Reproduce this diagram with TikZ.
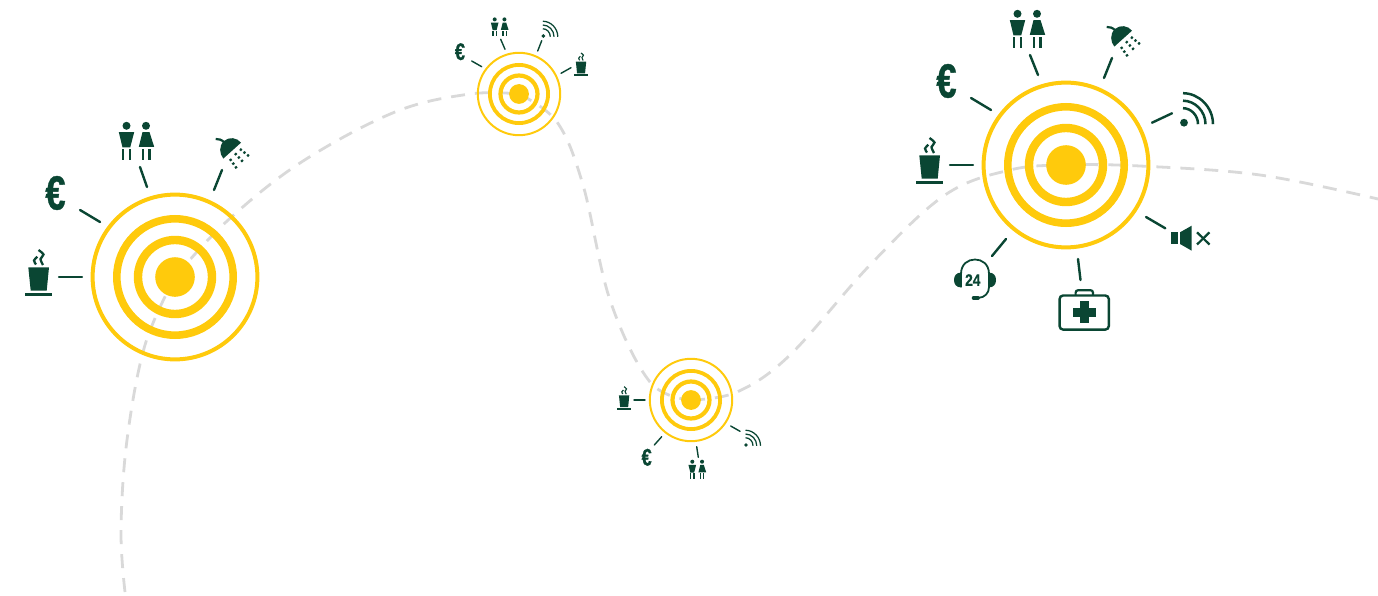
\documentclass[tikz,border=0pt]{standalone}
\usepackage{fontspec}
\setmainfont{Liberation Sans}[BoldFeatures={FakeBold=0.8}]
\definecolor{ygold}{HTML}{FFCA0C}
\definecolor{dgreen}{HTML}{0A4633}
\definecolor{dashgray}{HTML}{D9D9D9}
\tikzset{
  route/.style={draw=dashgray,line width=2.8pt,dash pattern=on 14pt off 10pt},
  spokeline/.style={draw=dgreen,line cap=round},
  glyph/.style={fill=dgreen,draw=none},
  stroke/.style={draw=dgreen,fill=none},
  eurotext/.style={text=dgreen,inner sep=0pt,font=\bfseries\fontsize{48}{48}\selectfont,xscale=.76,transform shape},
  daytext/.style={text=dgreen,inner sep=0pt,font=\bfseries\fontsize{16.5}{16.5}\selectfont,xscale=.84,transform shape},
}
% #1 x, #2 y, #3 scale
\newcommand\targetmark[3]{\begin{scope}[shift={(#1,#2)},scale=#3]
  \draw[ygold,line width=#3*4pt] (0,0) circle[radius=82.4];
  \draw[ygold,line width=#3*7.6pt] (0,0) circle[radius=58.2];
  \draw[ygold,line width=#3*8.4pt] (0,0) circle[radius=37];
  \fill[ygold] (0,0) circle[radius=19.8];
\end{scope}}
\newcommand\spoke[5]{\draw[spokeline,line width=#5pt] (#1,#2) -- (#3,#4);}
\newcommand\cupicon[3]{\begin{scope}[shift={(#1,#2)},scale=#3]
  \fill[glyph] (-9.7,-4.7) -- (11,-4.7) -- (8.7,18.7) -- (-7.3,18.7) -- cycle;
  \fill[glyph] (-13,21) rectangle (13.7,23.6);
  \draw[stroke,line width=#3*2.3pt] plot[smooth] coordinates {(0.5,-22) (5.5,-17.5) (2.5,-13) (5,-7)};
  \draw[stroke,line width=#3*2.3pt] plot[smooth] coordinates {(-2,-7.5) (-4,-11.5) (-0.7,-15.3)};
\end{scope}}
\newcommand\wcicon[3]{\begin{scope}[shift={(#1,#2)},scale=#3]
  \fill[glyph] (-10,-15.2) circle[radius=4];
  \fill[glyph] (-17.7,-8.9) -- (-2.3,-8.9) -- (-6.3,6.5) -- (-14,6.5) -- cycle;
  \fill[glyph] (-14.7,8.3) rectangle (-12.1,19);
  \fill[glyph] (-7.9,8.3) rectangle (-5.4,19);
  \fill[glyph] (9.5,-15.2) circle[radius=4];
  \fill[glyph] (6,-8.9) -- (13,-8.9) -- (17.7,5.9) -- (2.3,5.9) -- cycle;
  \fill[glyph] (5,8.3) rectangle (7.6,19);
  \fill[glyph] (11.7,8.3) rectangle (14.3,19);
\end{scope}}
\newcommand\showericon[3]{\begin{scope}[shift={(#1,#2)},scale=#3]
  \fill[glyph] (9,-9.3) .. controls (5,-14.5) and (-3,-15.5) .. (-8,-11) .. controls (-13.5,-6) and (-12.5,2) .. (-8.7,6.6) -- cycle;
  \draw[stroke,line width=#3*2.2pt] (-16.3,-13) .. controls (-13,-13) and (-11,-12.5) .. (-8,-10);
  \draw[stroke,line width=#3*2.4pt,dash pattern=on 2.2pt off 2.4pt] (-2,7) -- (5,16.8);
  \draw[stroke,line width=#3*2.4pt,dash pattern=on 2.2pt off 2.4pt] (3,1.3) -- (12,11);
  \draw[stroke,line width=#3*2.4pt,dash pattern=on 2.2pt off 2.4pt] (8,-3) -- (18,5);
\end{scope}}
\newcommand\wifiicon[3]{\begin{scope}[shift={(#1,#2)},scale=#3]
  \fill[glyph] (0,0) circle[radius=3.9];
  \draw[stroke,line width=#3*2.5pt] (-1,-14.5) .. controls (7,-14.5) and (14,-7.5) .. (14,1.5);
  \draw[stroke,line width=#3*2.5pt] (-1,-22) .. controls (11,-22) and (21.5,-11.5) .. (21.5,1.5);
  \draw[stroke,line width=#3*2.5pt] (-1,-29.5) .. controls (15,-29.5) and (29,-15.5) .. (29,1.5);
\end{scope}}
\begin{document}
\begin{tikzpicture}[x=1pt,y=-1pt]
\useasboundingbox (0,0) rectangle (1378,596);
% routes
\draw[route] plot[smooth,tension=.6] coordinates {(125,592) (121,530) (127,440) (145,345) (175,277)};
\draw[route] plot[smooth,tension=.6] coordinates {(175,277) (226,222) (300,163) (395,112) (470,94) (519,94)};
\draw[route] plot[smooth,tension=.6] coordinates {(519,94) (557,122) (583,185) (610,300) (650,382) (691,400)};
\draw[route] plot[smooth,tension=.6] coordinates {(691,400) (737,392) (790,355) (870,265) (945,195) (1010,170) (1066,165) (1140,166) (1260,175) (1378,199)};
% targets
\targetmark{175}{277}{1}
\targetmark{519}{94}{.5}
\targetmark{691}{400}{.5}
\targetmark{1066}{165}{1}
% target one
\spoke{59}{277}{82}{277}{2.4}
\spoke{80}{210}{100}{222}{2.4}
\spoke{140}{167}{147}{187}{2.4}
\spoke{222}{170}{214}{190}{2.4}
\cupicon{38}{272}{1}
\node[eurotext] (euroA) at (55.5,193) {€};
\wcicon{136.5}{141}{1}
\showericon{232}{152}{1}
% target two
\spoke{471.7}{61}{481.7}{66.7}{1.4}
\spoke{500.7}{39.3}{505}{49.3}{1.4}
\spoke{541.7}{40.7}{537.7}{51}{1.4}
\spoke{571}{67.7}{561}{73.3}{1.4}
\node[eurotext,scale=.5] (euroB) at (460,51.7) {€};
\wcicon{499.7}{27}{.5}
\wifiicon{543.3}{36}{.5}
\cupicon{580.7}{64}{.5}
% target three
\spoke{634}{400}{645}{400}{1.4}
\spoke{661.7}{436.7}{654.3}{445}{1.4}
\spoke{696.7}{446.7}{698.3}{457.3}{1.4}
\spoke{730.7}{426}{740}{431.3}{1.4}
\cupicon{623.8}{397.7}{.5}
\node[eurotext,scale=.5] (euroC) at (646.7,457.3) {€};
\wcicon{697.3}{469.3}{.5}
\wifiicon{746}{445}{.5}
% target four
\spoke{950}{165}{973}{165}{2.4}
\spoke{971}{98}{991}{110}{2.4}
\spoke{1030}{55}{1038}{75}{2.4}
\spoke{1112}{58}{1104}{78}{2.4}
\spoke{1152}{122.7}{1172}{113.3}{2.4}
\spoke{1146}{217}{1165.3}{228.3}{2.4}
\spoke{1078}{259}{1080.5}{280}{2.4}
\spoke{1006}{239}{992}{256}{2.4}
\cupicon{929}{160}{1}
\node[eurotext] (euroD) at (946.5,81) {€};
\wcicon{1027.5}{29}{1}
\showericon{1123}{40}{1}
\wifiicon{1184}{122.7}{1}
% speaker
\fill[glyph] (1171,232.3) rectangle (1178.3,244);
\fill[glyph] (1180,232.3) -- (1191.7,225.7) -- (1191.7,250.7) -- (1180,244) -- cycle;
\draw[stroke,line width=2.2pt] (1197,232.3) -- (1209.5,244.5);
\draw[stroke,line width=2.2pt] (1197,244.5) -- (1209.5,232.3);
% first aid case
\draw[stroke,line width=2.4pt,rounded corners=3.5pt] (1059.6,295.5) rectangle (1108.8,329.6);
\draw[stroke,line width=2.2pt,rounded corners=2.5pt] (1075.6,295) -- (1075.6,290.2) -- (1093,290.2) -- (1093,295);
\fill[glyph] (1073,307.7) rectangle (1095.7,316.7);
\fill[glyph] (1080,301) rectangle (1088.6,323.4);
% headset
\fill[glyph] (961.5,272.5) .. controls (956,272.5) and (954,276) .. (954,280) .. controls (954,284) and (956,287.5) .. (961.5,287.5) -- cycle;
\fill[glyph] (988.5,272.5) .. controls (994,272.5) and (996,276) .. (996,280) .. controls (996,284) and (994,287.5) .. (988.5,287.5) -- cycle;
\draw[stroke,line width=1.8pt] (961,287) -- (961,274) .. controls (961,264) and (968,259.5) .. (975,259.5) .. controls (982,259.5) and (989,264) .. (989,274) -- (989,287) .. controls (989,293) and (985,297.5) .. (978,298);
\draw[stroke,line width=3.6pt,line cap=round] (973.5,298) -- (978,298);
\node[daytext] (dayhours) at (972.8,280) {24};
\end{tikzpicture}
\end{document}
